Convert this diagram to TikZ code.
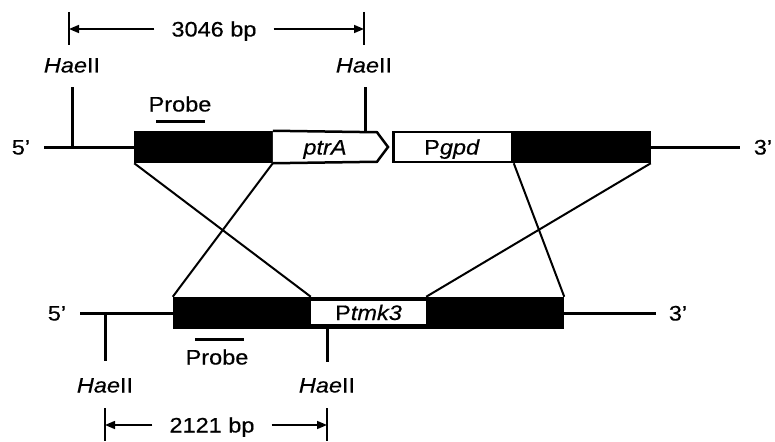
\documentclass[tikz,border=0pt]{standalone}
\usepackage{fontspec}
\setmainfont[FakeStretch=1.12, FakeBold=0.4]{Liberation Sans}
\usetikzlibrary{arrows.meta}
\tikzset{
  lbl/.style={inner sep=0pt, text height=15pt, text depth=0pt},
  box/.style={draw, line width=2.5pt, inner sep=0pt},
  dna/.style={line width=3pt},
  cross/.style={line width=2pt},
  dim/.style={line width=1.5pt},
  dimarrow/.style={line width=1.5pt, -{Triangle[length=10pt,width=8pt]}},
  len/.style={inner ysep=0pt, inner xsep=17pt, text height=15pt, text depth=0pt},
}
\begin{document}
\begin{tikzpicture}[x=1pt, y=-1pt, font=\fontsize{21}{23}\selectfont]
\useasboundingbox (0,0) rectangle (775,441);
\begin{scope}
% top allele
\node[box, fill=black, minimum width=136pt, minimum height=30pt] (flankL) at (203.5,147) {};
\filldraw[line width=2.5pt, fill=white] (flankL.north east) -- (377,132.25) -- (388,147) -- (377,161.75) -- (flankL.south east);
\node[lbl] (ptrA) at (325,147) {\textit{ptrA}};
\node[box, minimum width=119pt, minimum height=30pt] (gpd) at (453,147) {};
\node[box, fill=black, minimum width=137pt, minimum height=30pt] (flankR) at (581,147) {};
\node[lbl] (gpdtxt) at (452,147) {P\textit{gpd}};
\coordinate (t5) at (44,147); \coordinate (t3) at (740,147);
\draw[dna] (t5) -- (flankL.west); \draw[dna] (flankR.east) -- (t3);
\node[lbl] (top5) at (21,147) {5’}; \node[lbl] (top3) at (763,147) {3’};
\coordinate (s1) at (72,147); \coordinate (s2) at (365,131);
\draw[dna] (s1) -- (72,87); \draw[dna] (s2) -- (365,87);
\node[lbl] (hae1) at (72,65) {\textit{Hae}II}; \node[lbl] (hae2) at (364,65) {\textit{Hae}II};
\node[lbl] (probeA) at (180,104) {Probe}; \draw[dna] (156,121) -- (205,121);
\draw[dim] (69,12) -- (69,45); \draw[dim] (364,12) -- (364,45);
\node[len] (lenA) at (214,29) {3046 bp};
\draw[dimarrow] (lenA.west) -- (69,29); \draw[dimarrow] (lenA.east) -- (364,29);
% bottom allele
\node[box, fill=black, minimum width=389pt, minimum height=30pt] (flankB) at (368.5,313) {};
\node[fill=white, inner sep=0pt, minimum width=115pt, minimum height=23pt, text height=15pt, text depth=0pt] (tmk) at (368.5,312.5) {P\textit{tmk3}};
\coordinate (b5) at (80,313); \coordinate (b3) at (656,313);
\draw[dna] (b5) -- (flankB.west); \draw[dna] (flankB.east) -- (b3);
\node[lbl] (bot5) at (57,313) {5’}; \node[lbl] (bot3) at (678,313) {3’};
\coordinate (s3) at (105,313); \coordinate (s4) at (327,329);
\draw[dna] (s3) -- (105,361); \draw[dna] (s4) -- (327,362);
\node[lbl] (hae3) at (105,385) {\textit{Hae}II}; \node[lbl] (hae4) at (327,385) {\textit{Hae}II};
\node[lbl] (probeB) at (217,357) {Probe}; \draw[dna] (195,339) -- (244,339);
\draw[dim] (105,408) -- (105,441); \draw[dim] (327,408) -- (327,441);
\node[len] (lenB) at (212,425) {2121 bp};
\draw[dimarrow] (lenB.west) -- (105,425); \draw[dimarrow] (lenB.east) -- (327,425);
% crossover
\draw[cross] (flankL.south west) -- (tmk.west |- flankB.north);
\draw[cross] (flankL.south east) -- (flankB.north west);
\draw[cross] (gpd.south east) -- (flankB.north east);
\draw[cross] (flankR.south east) -- (tmk.east |- flankB.north);
\end{scope}
\end{tikzpicture}
\end{document}
